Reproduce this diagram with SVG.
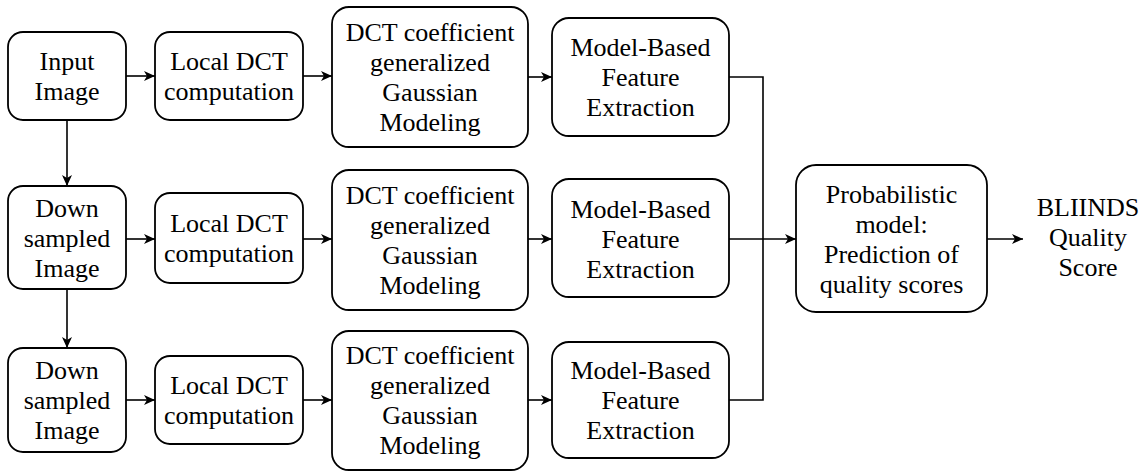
<svg xmlns="http://www.w3.org/2000/svg" width="1147" height="471" viewBox="0 0 1147 471">
  <defs>
    <marker id="arrow" markerUnits="userSpaceOnUse" markerWidth="11" markerHeight="10" refX="11" refY="5" orient="auto">
      <path d="M0,0 L11,5 L0,10 L3,5 Z" fill="#000000"/>
    </marker>
  </defs>

  <rect width="1147" height="471" fill="#ffffff"/>

  <!-- connectors: shared stroke set on the group -->
  <g id="connectors" fill="none" stroke="#000000" stroke-width="1.6">
    <line x1="126" y1="76" x2="155" y2="76" marker-end="url(#arrow)"/>
    <line x1="303" y1="76" x2="332" y2="76" marker-end="url(#arrow)"/>
    <line x1="528" y1="77" x2="552" y2="77" marker-end="url(#arrow)"/>
    <line x1="126" y1="239" x2="155" y2="239" marker-end="url(#arrow)"/>
    <line x1="303" y1="239" x2="332" y2="239" marker-end="url(#arrow)"/>
    <line x1="528" y1="239" x2="552" y2="239" marker-end="url(#arrow)"/>
    <line x1="126" y1="400" x2="155" y2="400" marker-end="url(#arrow)"/>
    <line x1="303" y1="400" x2="332" y2="400" marker-end="url(#arrow)"/>
    <line x1="528" y1="400" x2="552" y2="400" marker-end="url(#arrow)"/>
    <line x1="67" y1="120" x2="67" y2="186" marker-end="url(#arrow)"/>
    <line x1="67" y1="289" x2="67" y2="348" marker-end="url(#arrow)"/>
    <polyline points="729,77 763,77 763,400 729,400"/>
    <line x1="729" y1="239" x2="796" y2="239" marker-end="url(#arrow)"/>
    <line x1="987" y1="239" x2="1023" y2="239" marker-end="url(#arrow)"/>
  </g>

  <g id="boxes" fill="#ffffff" stroke="#000000" stroke-width="1.8">
    <rect x="8" y="32" width="118" height="88" rx="15"/>
    <rect x="155" y="32" width="148" height="88" rx="15"/>
    <rect x="332" y="7" width="196" height="140" rx="17"/>
    <rect x="552" y="18" width="177" height="118" rx="17"/>
    <rect x="8" y="186" width="118" height="103" rx="15"/>
    <rect x="155" y="193" width="148" height="90" rx="15"/>
    <rect x="332" y="170" width="196" height="140" rx="17"/>
    <rect x="552" y="179" width="177" height="118" rx="17"/>
    <rect x="8" y="348" width="118" height="104" rx="15"/>
    <rect x="155" y="356" width="148" height="88" rx="15"/>
    <rect x="332" y="331" width="196" height="139" rx="17"/>
    <rect x="552" y="342" width="177" height="116" rx="17"/>
    <rect x="796" y="165" width="191" height="147" rx="20"/>
  </g>

  <g id="input-image">
    <text x="67" y="70" font-family="Liberation Serif" font-size="26" text-anchor="middle">Input</text>
    <text x="67" y="100" font-family="Liberation Serif" font-size="26" text-anchor="middle">Image</text>
  </g>
  <g id="local-dct-1">
    <text x="229" y="70" font-family="Liberation Serif" font-size="26" text-anchor="middle">Local DCT</text>
    <text x="229" y="100" font-family="Liberation Serif" font-size="26" text-anchor="middle">computation</text>
  </g>
  <g id="ggd-model-1">
    <text x="430" y="41" font-family="Liberation Serif" font-size="26" text-anchor="middle">DCT coefficient</text>
    <text x="430" y="71" font-family="Liberation Serif" font-size="26" text-anchor="middle">generalized</text>
    <text x="430" y="101" font-family="Liberation Serif" font-size="26" text-anchor="middle">Gaussian</text>
    <text x="430" y="131" font-family="Liberation Serif" font-size="26" text-anchor="middle">Modeling</text>
  </g>
  <g id="features-1">
    <text x="640.5" y="56" font-family="Liberation Serif" font-size="26" text-anchor="middle">Model-Based</text>
    <text x="640.5" y="86" font-family="Liberation Serif" font-size="26" text-anchor="middle">Feature</text>
    <text x="640.5" y="116" font-family="Liberation Serif" font-size="26" text-anchor="middle">Extraction</text>
  </g>

  <g id="downsampled-1">
    <text x="67" y="217" font-family="Liberation Serif" font-size="26" text-anchor="middle">Down</text>
    <text x="67" y="247" font-family="Liberation Serif" font-size="26" text-anchor="middle">sampled</text>
    <text x="67" y="277" font-family="Liberation Serif" font-size="26" text-anchor="middle">Image</text>
  </g>
  <g id="local-dct-2">
    <text x="229" y="232" font-family="Liberation Serif" font-size="26" text-anchor="middle">Local DCT</text>
    <text x="229" y="262" font-family="Liberation Serif" font-size="26" text-anchor="middle">computation</text>
  </g>
  <g id="ggd-model-2">
    <text x="430" y="204" font-family="Liberation Serif" font-size="26" text-anchor="middle">DCT coefficient</text>
    <text x="430" y="234" font-family="Liberation Serif" font-size="26" text-anchor="middle">generalized</text>
    <text x="430" y="264" font-family="Liberation Serif" font-size="26" text-anchor="middle">Gaussian</text>
    <text x="430" y="294" font-family="Liberation Serif" font-size="26" text-anchor="middle">Modeling</text>
  </g>
  <g id="features-2">
    <text x="640.5" y="218" font-family="Liberation Serif" font-size="26" text-anchor="middle">Model-Based</text>
    <text x="640.5" y="248" font-family="Liberation Serif" font-size="26" text-anchor="middle">Feature</text>
    <text x="640.5" y="278" font-family="Liberation Serif" font-size="26" text-anchor="middle">Extraction</text>
  </g>

  <g id="downsampled-2">
    <text x="67" y="379" font-family="Liberation Serif" font-size="26" text-anchor="middle">Down</text>
    <text x="67" y="409" font-family="Liberation Serif" font-size="26" text-anchor="middle">sampled</text>
    <text x="67" y="439" font-family="Liberation Serif" font-size="26" text-anchor="middle">Image</text>
  </g>
  <g id="local-dct-3">
    <text x="229" y="394" font-family="Liberation Serif" font-size="26" text-anchor="middle">Local DCT</text>
    <text x="229" y="424" font-family="Liberation Serif" font-size="26" text-anchor="middle">computation</text>
  </g>
  <g id="ggd-model-3">
    <text x="430" y="364" font-family="Liberation Serif" font-size="26" text-anchor="middle">DCT coefficient</text>
    <text x="430" y="394" font-family="Liberation Serif" font-size="26" text-anchor="middle">generalized</text>
    <text x="430" y="424" font-family="Liberation Serif" font-size="26" text-anchor="middle">Gaussian</text>
    <text x="430" y="454" font-family="Liberation Serif" font-size="26" text-anchor="middle">Modeling</text>
  </g>
  <g id="features-3">
    <text x="640.5" y="379" font-family="Liberation Serif" font-size="26" text-anchor="middle">Model-Based</text>
    <text x="640.5" y="409" font-family="Liberation Serif" font-size="26" text-anchor="middle">Feature</text>
    <text x="640.5" y="439" font-family="Liberation Serif" font-size="26" text-anchor="middle">Extraction</text>
  </g>

  <g id="predictor">
    <text x="891.5" y="203" font-family="Liberation Serif" font-size="26" text-anchor="middle">Probabilistic</text>
    <text x="891.5" y="233" font-family="Liberation Serif" font-size="26" text-anchor="middle">model:</text>
    <text x="891.5" y="263" font-family="Liberation Serif" font-size="26" text-anchor="middle">Prediction of</text>
    <text x="891.5" y="293" font-family="Liberation Serif" font-size="26" text-anchor="middle">quality scores</text>
  </g>
  <g id="output-score">
    <text x="1088" y="216" font-family="Liberation Serif" font-size="26" text-anchor="middle">BLIINDS</text>
    <text x="1088" y="246" font-family="Liberation Serif" font-size="26" text-anchor="middle">Quality</text>
    <text x="1088" y="276" font-family="Liberation Serif" font-size="26" text-anchor="middle">Score</text>
  </g>
</svg>
